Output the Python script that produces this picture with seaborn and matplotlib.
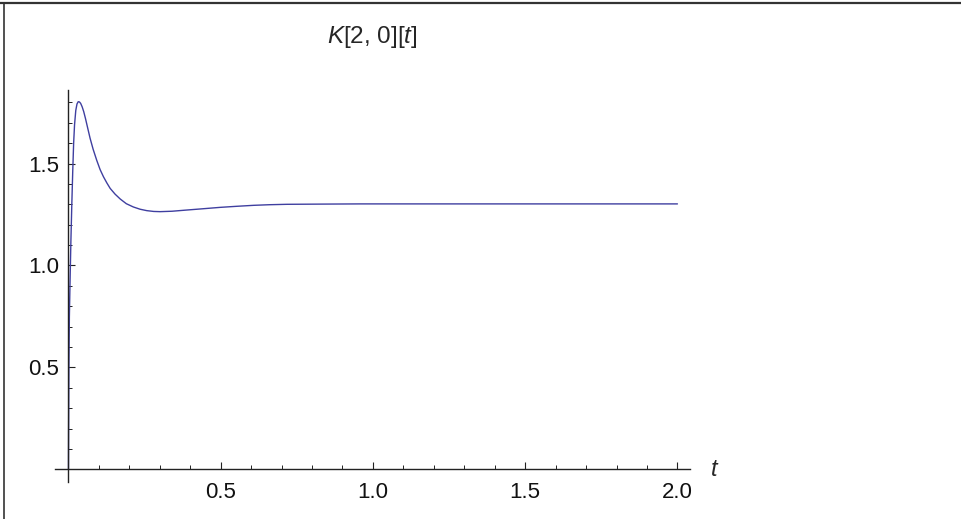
import matplotlib
matplotlib.use("Agg")
import matplotlib.pyplot as plt
from matplotlib.lines import Line2D
from matplotlib.ticker import FixedLocator
import seaborn as sns
import pandas as pd

t_values = [0.0, 0.0005, 0.0015, 0.003, 0.0056, 0.008, 0.011, 0.014, 0.017, 0.020,
            0.024, 0.028, 0.032, 0.036, 0.040, 0.045, 0.050, 0.056, 0.063, 0.071,
            0.081, 0.093, 0.104, 0.115, 0.126, 0.137, 0.153, 0.170, 0.190, 0.213,
            0.235, 0.257, 0.280, 0.301, 0.340, 0.389, 0.440, 0.498, 0.550, 0.608,
            0.660, 0.717, 0.827, 0.958, 1.2, 1.5, 2.0]
k_values = [0.0, 0.2, 0.5, 0.75, 0.95, 1.12, 1.30, 1.46, 1.60, 1.69,
            1.76, 1.792, 1.803, 1.802, 1.795, 1.778, 1.755, 1.72, 1.675, 1.624,
            1.57, 1.515, 1.47, 1.435, 1.405, 1.378, 1.35, 1.326, 1.303, 1.287,
            1.276, 1.269, 1.265, 1.264, 1.266, 1.272, 1.278, 1.285, 1.290, 1.295,
            1.298, 1.300, 1.301, 1.302, 1.302, 1.302, 1.302]
x_tick_values = [0.5, 1.0, 1.5, 2.0]
x_tick_labels = ["0.5", "1.0", "1.5", "2.0"]
y_tick_values = [0.5, 1.0, 1.5]
y_tick_labels = ["0.5", "1.0", "1.5"]
x_minor_values = [0.1, 0.2, 0.3, 0.4, 0.6, 0.7, 0.8, 0.9, 1.1, 1.2, 1.3, 1.4,
                  1.6, 1.7, 1.8, 1.9]
y_minor_values = [0.1, 0.2, 0.3, 0.4, 0.6, 0.7, 0.8, 0.9, 1.1, 1.2, 1.3, 1.4,
                  1.6, 1.7, 1.8]
title_text = r"$K$[2, 0][$t$]"
x_label = "t"

sns.set_style("white")
plt.rcParams["font.family"] = ["Liberation Sans", "DejaVu Sans"]
plt.rcParams["mathtext.fontset"] = "custom"
plt.rcParams["mathtext.rm"] = "Liberation Sans"
plt.rcParams["mathtext.it"] = "Liberation Sans:italic"

df = pd.DataFrame({"t": t_values, "K": k_values})

fig = plt.figure(figsize=(9.61, 5.19), dpi=100)
ax = fig.add_axes([0.0573, 0.0719, 0.6603, 0.7545])
sns.lineplot(data=df, x="t", y="K", ax=ax, color="#3f3fa0", linewidth=1.0)

ax.set_xlim(-0.044, 2.04)
ax.set_ylim(-0.06, 1.86)
for s in ["top", "right"]:
    ax.spines[s].set_visible(False)
ax.spines["left"].set_position(("data", 0))
ax.spines["bottom"].set_position(("data", 0))
for s in ["left", "bottom"]:
    ax.spines[s].set_color("#222222")
    ax.spines[s].set_linewidth(1.0)

ax.xaxis.set_major_locator(FixedLocator(x_tick_values))
ax.set_xticklabels(x_tick_labels)
ax.yaxis.set_major_locator(FixedLocator(y_tick_values))
ax.set_yticklabels(y_tick_labels)
ax.xaxis.set_minor_locator(FixedLocator(x_minor_values))
ax.yaxis.set_minor_locator(FixedLocator(y_minor_values))
ax.tick_params(which="both", bottom=True, left=True, top=False, right=False)
ax.tick_params(which="major", direction="in", length=5.0, width=0.8, color="#222222",
               labelsize=16, labelcolor="#111111")
ax.tick_params(which="minor", direction="in", length=3.1, width=0.7, color="#222222")
ax.tick_params(axis="x", which="major", pad=9)
ax.tick_params(axis="y", which="major", pad=6.5)
ax.set_xlabel("")
ax.set_ylabel("")
ax.grid(False)

ax.text(2.12, 0.0, x_label, fontsize=17, style="italic", ha="center", va="center",
        transform=ax.transData)
fig.text(372 / 961, 1 - 37.5 / 519, title_text, fontsize=17.5, ha="center", va="center")

fig.add_artist(Line2D([0, 1], [1 - 2.5 / 519, 1 - 2.5 / 519], transform=fig.transFigure,
                      color="#333333", linewidth=1.6))
fig.add_artist(Line2D([3.5 / 961, 3.5 / 961], [0, 1 - 2.5 / 519], transform=fig.transFigure,
                      color="#333333", linewidth=1.2))

fig.savefig("out.png", dpi=100)
